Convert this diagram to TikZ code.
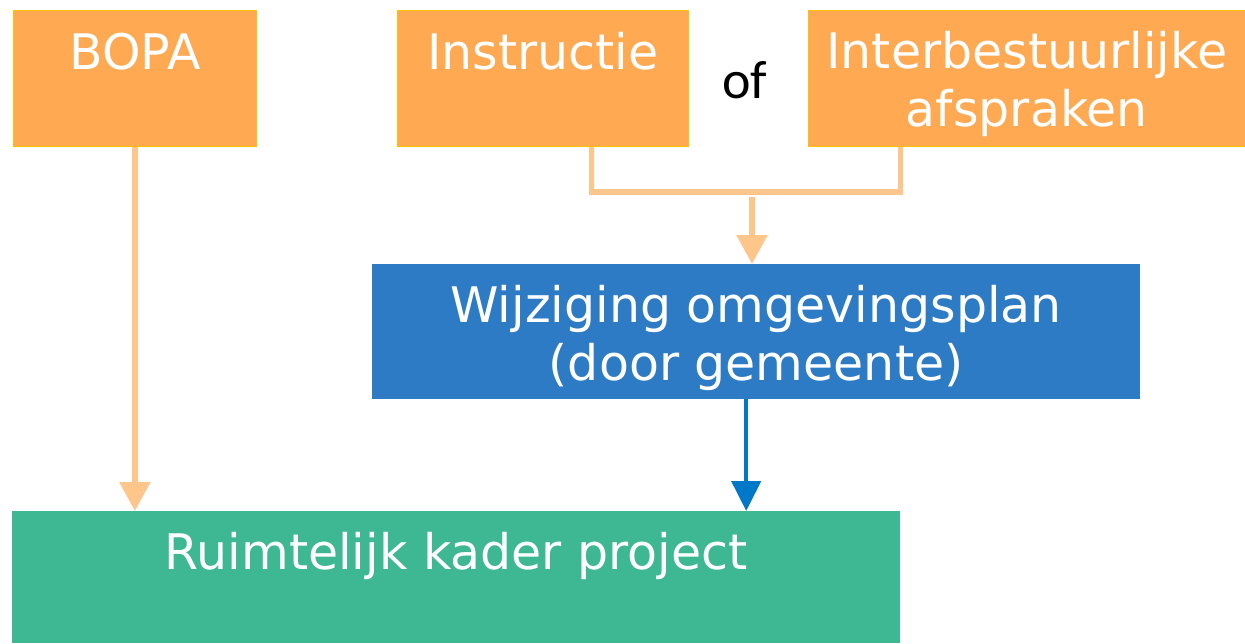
\documentclass[tikz,border=0pt]{standalone}
\usepackage{fontspec}
\setmainfont{DejaVu Sans}
\newfontfamily\offont{Carlito}
\usetikzlibrary{arrows.meta,positioning}
\definecolor{boxorange}{HTML}{FFA953}
\definecolor{boxgold}{HTML}{FFC000}
\definecolor{linkorange}{HTML}{FFC68C}
\definecolor{planblue}{HTML}{2D7BC4}
\definecolor{arrowblue}{HTML}{0078C8}
\definecolor{projgreen}{HTML}{3EB893}
\begin{document}
\begin{tikzpicture}[x=1pt, y=-1pt, font=\fontsize{49}{58}\selectfont, line join=miter,
	box/.style={inner sep=0pt, anchor=north west, align=center, text=white},
	obox/.style={box, fill=boxorange, draw=boxgold, line width=0.8pt},
	link/.style={draw=linkorange, line width=5.5pt},
	linkarrow/.style={link, -{Triangle[width=30pt,length=29pt]}},
	bluearrow/.style={draw=arrowblue, line width=4.5pt, -{Triangle[width=29pt,length=30pt]}}]
	\useasboundingbox (0,0) rectangle (1245,643);
	\node[obox, minimum width=243pt, minimum height=136pt, text height=59pt, text depth=77pt] (bopa) at (13,10) {BOPA};
	\node[obox, minimum width=291pt, minimum height=136pt, text height=59pt, text depth=77pt] (instr) at (397,10) {Instructie};
	\node[obox, minimum width=437pt, minimum height=136pt, text height=116pt, text depth=20pt] (inter) at (808,10) {Interbestuurlijke\\afspraken};
	\node[font=\offont\fontsize{54}{60}\selectfont, anchor=base] (of) at (745,98) {of};
	\node[box, fill=planblue, minimum width=768pt, minimum height=135pt, text height=116pt, text depth=19pt] (plan) at (372,264) {Wijziging omgevingsplan\\(door gemeente)};
	\node[box, fill=projgreen, minimum width=888pt, minimum height=132pt, text height=58pt, text depth=74pt] (proj) at (12,511) {Ruimtelijk kader project};
	\coordinate (fork) at (752,192);
	\draw[link] ([xshift=48.5pt]instr.south) |- (fork) -| ([xshift=-126.5pt]inter.south);
	\draw[linkarrow] ([yshift=-5pt]fork) -- (plan.north -| fork);
	\draw[linkarrow] (bopa.south) -- (proj.north -| bopa.south);
	\draw[bluearrow] ([xshift=-10pt]plan.south) -- ([xshift=-10pt]plan.south |- proj.north);
\end{tikzpicture}
\end{document}
